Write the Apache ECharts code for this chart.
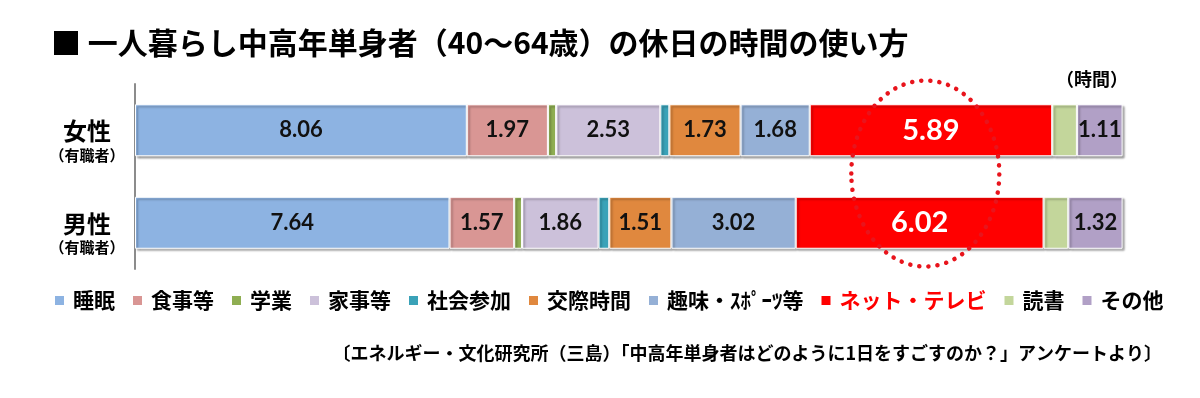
<!DOCTYPE html>
<html>
<head>
<meta charset="utf-8">
<script src="https://cdn.jsdelivr.net/npm/echarts@6/dist/echarts.min.js"></script>
<style>
html,body{margin:0;padding:0;background:#fff;}
#main{width:1200px;height:398px;}
</style>
</head>
<body>
<div id="main"></div>
<script>
var categories = ['女性', '男性'];
var names = ['睡眠', '食事等', '学業', '家事等', '社会参加', '交際時間', '趣味・ｽﾎﾟｰﾂ等', 'ネット・テレビ', '読書', 'その他'];
var colors = ['#8db3e2', '#d99694', '#8fae52', '#ccc1da', '#3aa2b8', '#e0883e', '#95b0d6', '#ff0000', '#c3d69b', '#b1a0c6'];
var female = [8.06, 1.97, 0.2, 2.53, 0.22, 1.73, 1.68, 5.89, 0.6, 1.11];
var male = [7.64, 1.57, 0.19, 1.86, 0.26, 1.51, 3.02, 6.02, 0.6, 1.32];
var noLabel = ['学業', '社会参加', '読書'];
var highlight = 'ネット・テレビ';

var jp = '"Noto Sans CJK JP", sans-serif';
var myChart = echarts.init(document.getElementById('main'));

var series = names.map(function (n, i) {
    var hot = n === highlight;
    return {
        name: n,
        type: 'bar',
        stack: 'total',
        barWidth: 52,
        data: [female[i], male[i]],
        itemStyle: {
            color: colors[i],
            borderColor: '#fff',
            borderWidth: 1,
            shadowColor: 'rgba(0,0,0,0.35)',
            shadowBlur: 2,
            shadowOffsetX: 2,
            shadowOffsetY: 2
        },
        label: {
            show: noLabel.indexOf(n) < 0,
            position: 'inside',
            formatter: function (p) { return p.value.toFixed(2); },
            fontFamily: 'Lato, sans-serif',
            fontWeight: 'bold',
            fontSize: hot ? 29 : 22,
            color: hot ? '#fff' : '#111'
        },
        emphasis: { disabled: true }
    };
});

var textBits = [
    {
        type: 'text', right: 72, top: 70,
        style: { text: '（時間）', font: 'bold 18px ' + jp, fill: '#000' }
    },
    {
        type: 'text', right: 38, top: 344,
        style: { text: '〔エネルギー・文化研究所（三島）「中高年単身者はどのように1日をすごすのか？」アンケートより〕', font: 'bold 18px ' + jp, fill: '#000' }
    }
];

option = {
    animation: false,
    title: {
        text: '■ 一人暮らし中高年単身者（40～64歳）の休日の時間の使い方',
        left: 46,
        top: 23,
        textStyle: { fontFamily: jp, fontWeight: 'bold', fontSize: 30, color: '#000' }
    },
    legend: {
        left: 48,
        top: 285,
        itemWidth: 11,
        itemHeight: 11,
        itemGap: 16,
        icon: 'rect',
        textStyle: { fontFamily: jp, fontWeight: 'bold', fontSize: 21, color: '#000', padding: [0, 0, 0, 3] },
        data: names.map(function (n) {
            return n === highlight ? { name: n, textStyle: { color: '#ff0000' } } : n;
        })
    },
    grid: { left: 135, right: 77, top: 84, height: 185 },
    xAxis: { type: 'value', min: 0, max: 24, show: false },
    yAxis: {
        type: 'category',
        inverse: true,
        data: categories,
        axisLine: { lineStyle: { color: '#8c8c8c', width: 2 } },
        axisTick: { show: false },
        axisLabel: {
            margin: 48,
            align: 'center',
            padding: [22, 0, 0, 0],
            formatter: function (v) { return '{a|' + v + '}\n{b|（有職者）}'; },
            rich: {
                a: { fontFamily: jp, fontWeight: 'bold', fontSize: 24, lineHeight: 28, color: '#000' },
                b: { fontFamily: jp, fontWeight: 'bold', fontSize: 15, lineHeight: 20, color: '#000' }
            }
        }
    },
    graphic: textBits,
    series: series
};
myChart.setOption(option);

// dotted ellipse round the ネット・テレビ segments
var k = names.indexOf(highlight);
function segMid(arr, row) {
    var s = 0;
    for (var i = 0; i < k; i++) s += arr[i];
    return myChart.convertToPixel({ gridIndex: 0 }, [s + arr[k] / 2, row]);
}
var p1 = segMid(female, 0), p2 = segMid(male, 1);
myChart.setOption({
    graphic: textBits.concat([
        {
            type: 'ellipse', z: 100,
            shape: { cx: (p1[0] + p2[0]) / 2, cy: (p1[1] + p2[1]) / 2 - 3, rx: 74, ry: 93 },
            style: { fill: 'none', stroke: '#e8141c', lineWidth: 4.5, lineCap: 'round', lineDash: [0.1, 9] }
        }
    ])
});

window.addEventListener('resize', function () {
    myChart.resize();
});
</script>
</body>
</html>
